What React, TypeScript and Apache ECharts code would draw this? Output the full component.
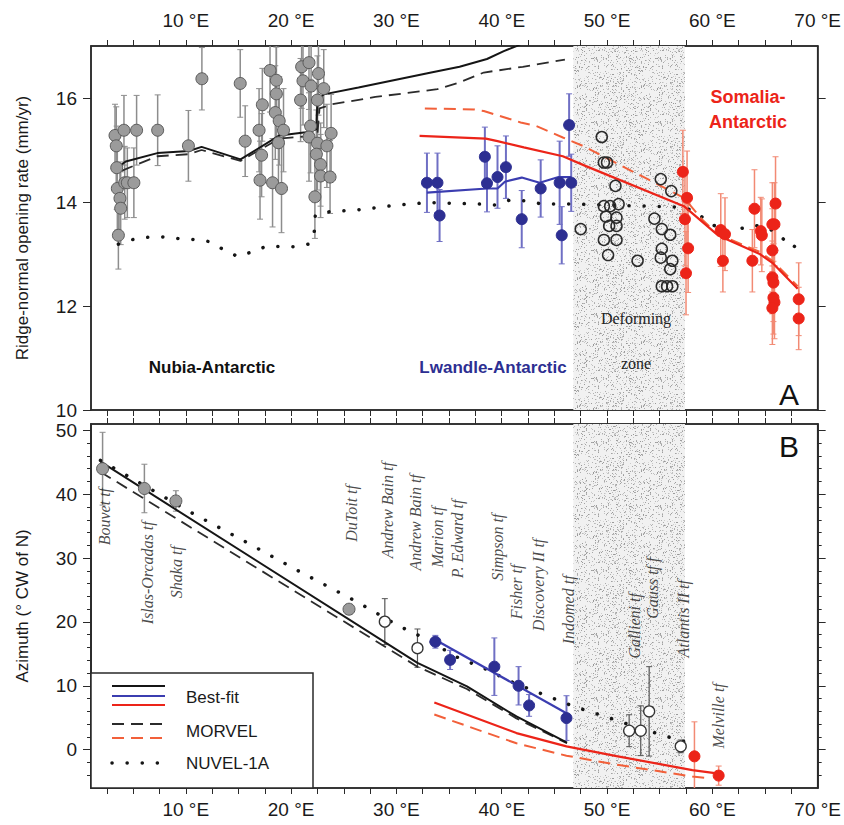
import React, { useEffect, useRef } from 'react';
import * as echarts from 'echarts';

// ---------- axes ----------
const LON_MIN = 1;
const LON_MAX = 70;
const lonLabels = [10, 20, 30, 40, 50, 60, 70];
const lonTicks = [2.5, 5, 7.5, 10, 12.5, 15, 17.5, 20, 22.5, 25, 27.5, 30, 32.5, 35, 37.5, 40, 42.5, 45, 47.5, 50, 52.5, 55, 57.5, 60, 62.5, 65, 67.5];
const rateLabels = [10, 12, 14, 16];
const azLabels = [0, 10, 20, 30, 40, 50];
const azMinorTicks = [-4, -2, 2, 4, 6, 8, 12, 14, 16, 18, 22, 24, 26, 28, 32, 34, 36, 38, 42, 44, 46, 48];
const deformZone = [46.8, 57.4];

// ---------- panel A: ridge-normal opening rate (lon, rate, ±err) ----------
const nubiaRate = [
  [3.28, 15.28, 0.6], [3.4, 15.08, 0.75], [3.44, 14.66, 0.8], [3.5, 14.26, 0.8], [3.75, 14.07, 0.7],
  [3.82, 13.88, 0.7], [3.6, 13.36, 0.65], [4.13, 15.38, 0.67], [4.2, 14.37, 0.7], [4.45, 14.37, 0.67],
  [5.07, 14.37, 0.67], [5.33, 15.38, 0.67], [7.33, 15.38, 0.68], [10.25, 15.08, 0.68], [11.53, 16.37, 0.6],
  [15.17, 16.28, 0.65], [15.64, 15.17, 0.68], [16.96, 15.38, 0.8], [17.27, 15.87, 0.7], [17.2, 14.9, 0.8],
  [17.05, 14.42, 0.75], [18.0, 16.53, 0.8], [18.6, 16.34, 0.8], [18.6, 16.08, 0.9], [18.5, 15.72, 0.9],
  [18.87, 15.56, 0.85], [19.28, 15.38, 0.8], [18.8, 15.14, 0.9], [18.24, 14.37, 0.85], [19.09, 14.26, 0.85],
  [21.0, 16.6, 0.8], [21.7, 16.68, 0.9], [21.13, 16.33, 0.85], [21.9, 16.23, 0.9], [22.6, 16.47, 0.8],
  [23.1, 16.18, 0.75], [20.9, 15.96, 0.8], [22.5, 15.96, 0.85], [21.85, 15.46, 0.9], [21.7, 15.25, 0.85],
  [23.8, 15.32, 0.75], [22.5, 15.13, 0.9], [23.4, 15.08, 0.8], [22.4, 14.92, 0.85], [22.8, 14.72, 0.8],
  [22.8, 14.5, 0.8], [23.7, 14.48, 0.7], [22.26, 14.1, 0.8],
];
const lwandleRate = [
  [32.9, 14.37, 0.57], [33.9, 14.37, 0.57], [34.1, 13.74, 0.5], [38.4, 14.87, 0.57], [38.6, 14.36, 0.55],
  [39.6, 14.48, 0.6], [40.4, 14.67, 0.6], [41.9, 13.67, 0.55], [43.7, 14.26, 0.55], [45.5, 14.37, 0.8],
  [45.7, 13.36, 0.55], [46.6, 14.37, 0.55], [46.4, 15.48, 0.6],
];
const somaliaRate = [
  [57.2, 14.58, 0.8], [57.6, 14.08, 0.9], [57.4, 13.67, 0.9], [57.7, 13.11, 0.85], [57.5, 12.63, 0.8],
  [60.8, 13.46, 0.7], [61.2, 13.38, 0.7], [61.0, 12.87, 0.6], [64.0, 13.87, 0.75], [64.6, 13.44, 0.65],
  [64.7, 13.36, 0.7], [63.8, 12.87, 0.6], [66.0, 13.97, 0.9], [65.7, 13.57, 0.8], [65.9, 13.57, 0.8],
  [65.7, 13.07, 0.8], [65.7, 12.55, 0.7], [65.8, 12.45, 0.75], [65.8, 12.16, 0.7], [65.9, 12.07, 0.7],
  [65.7, 11.96, 0.7], [68.2, 12.13, 0.7], [68.2, 11.76, 0.6],
];
const deformRate = [
  [49.5, 15.25], [49.7, 14.76], [50.0, 14.76], [50.8, 14.31], [49.7, 13.92], [50.3, 13.92], [51.1, 13.96],
  [49.9, 13.72], [50.9, 13.7], [50.2, 13.54], [50.9, 13.54], [47.5, 13.48], [49.7, 13.27], [50.9, 13.27],
  [50.1, 12.98], [52.9, 12.87], [55.1, 14.44], [56.1, 14.21], [54.5, 13.68], [55.2, 13.48], [56.0, 13.37],
  [55.2, 13.1], [55.1, 12.93], [56.2, 12.87], [56.0, 12.71], [55.2, 12.38], [55.7, 12.38], [56.2, 12.38],
];
const nubiaBestRate = [
  [3.9, 14.72], [4.3, 14.78], [7.3, 14.94], [10.3, 14.98], [11.5, 15.06], [15.2, 14.82], [18.9, 15.28],
  [21.4, 15.34], [22.4, 15.4], [22.5, 15.95], [23.1, 16.07], [26.4, 16.2], [33.3, 16.49], [36.0, 16.6],
  [38.6, 16.75], [40.2, 16.9], [41.4, 17.0], [45.0, 17.35],
];
const nubiaMorvelRate = [
  [3.9, 14.6], [7.3, 14.88], [10.3, 14.92], [11.5, 15.0], [15.2, 14.79], [18.9, 15.22], [21.9, 15.27],
  [22.5, 15.3], [22.7, 15.8], [23.9, 15.88], [28.0, 16.02], [33.9, 16.17], [36.0, 16.3], [38.3, 16.49],
  [42.0, 16.6], [46.0, 16.74],
];
const nuvelRate = [
  [3.6, 13.19], [4.76, 13.27], [6.27, 13.32], [7.74, 13.33], [9.25, 13.3], [10.7, 13.28], [12.2, 13.24],
  [13.54, 13.09], [14.95, 12.95], [16.27, 13.04], [17.7, 13.15], [20.2, 13.14], [21.7, 13.19], [22.2, 13.43],
  [22.3, 13.75], [23.6, 13.81], [26.9, 13.86], [30.0, 13.94], [33.1, 13.99], [37.9, 13.96], [39.5, 13.94],
  [40.8, 14.04], [42.4, 14.02], [43.8, 13.96], [46.8, 13.96], [57.4, 13.9], [58.7, 13.76], [60.0, 13.57],
  [61.2, 13.42], [62.7, 13.49], [64.1, 13.55], [65.4, 13.49], [66.5, 13.33], [67.7, 13.12], [68.2, 13.26],
];
const lwandleBestRate = [
  [32.9, 14.18], [38.6, 14.26], [39.6, 14.26], [40.3, 14.39], [41.9, 14.47], [43.6, 14.37], [45.4, 14.48], [46.6, 14.48],
];
const somaliaBestRate = [
  [32.2, 15.27], [38.5, 15.22], [39.6, 15.17], [42.1, 15.05], [45.8, 14.88], [48.0, 14.69], [57.3, 13.92],
  [60.6, 13.35], [64.5, 13.0], [65.7, 12.83], [68.1, 12.33],
];
const somaliaMorvelRate = [
  [32.7, 15.8], [37.4, 15.78], [38.3, 15.75], [41.8, 15.53], [43.3, 15.46], [45.8, 15.24], [47.7, 15.08],
  [57.3, 14.08], [59.0, 13.67], [60.5, 13.38], [64.5, 13.04], [65.7, 12.87], [68.1, 12.38],
];

// ---------- panel B: azimuth (lon, azimuth, ±err) ----------
const nubiaAz = [[2.1, 44.0, 5.7], [6.07, 40.9, 3.8], [9.06, 38.95, 1.6], [25.5, 22.0, 0.6]];
const openAz = [[28.9, 20.05, 3.6], [32.0, 15.9, 3.0], [52.1, 2.97, 2.5], [53.2, 2.97, 3.9], [54.0, 6.0, 7.0], [57.0, 0.52, 1.0]];
const lwandleAz = [[33.7, 16.9, 1.0], [35.1, 14.06, 1.5], [39.3, 13.0, 4.5], [41.6, 10.0, 3.0], [42.6, 6.93, 1.7], [46.15, 4.95, 3.5]];
const somaliaAz = [[58.3, -1.04, 5.4], [60.6, -4.06, 1.5]];
const nubiaBestAz = [[1.9, 45.1], [32.0, 13.6], [36.7, 9.9], [41.4, 5.2], [46.2, 1.1]];
const nubiaMorvelAz = [[1.9, 43.5], [32.0, 13.0], [36.7, 9.5], [41.4, 4.9], [46.2, 1.0]];
const nuvelAz = [
  [1.9, 45.3], [7.4, 40.1], [10.1, 37.5], [15.4, 32.8], [20.8, 27.9], [26.2, 23.2], [30.2, 19.4], [33.0, 17.2],
  [35.6, 14.6], [38.5, 12.6], [41.1, 10.5], [44.0, 8.6], [46.8, 6.8], [49.8, 5.2], [52.7, 3.6], [55.6, 2.1], [58.5, 0.7],
];
const lwandleBestAz = [[33.6, 17.3], [46.15, 5.7]];
const somaliaBestAz = [[33.6, 7.4], [41.4, 2.6], [46.15, 0.52], [50.9, -1.0], [58.1, -3.2], [60.6, -3.75]];
const somaliaMorvelAz = [[33.6, 5.5], [41.4, 1.0], [46.15, -0.94], [50.9, -2.34], [58.1, -4.2], [59.3, -4.4]];
const faultNames = [
  'Bouvet tf', 'Islas-Orcadas tf', 'Shaka tf', 'DuToit tf', 'Andrew Bain tf', 'Andrew Bain tf', 'Marion tf',
  'P. Edward tf', 'Simpson tf', 'Fisher tf', 'Discovery II tf', 'Indomed tf', 'Gallieni tf', 'Gauss tf f',
  'Atlantis II tf', 'Melville tf',
];
const faultLon = [2.25, 6.33, 9.15, 25.7, 29.2, 31.85, 33.9, 35.8, 39.6, 41.4, 43.5, 46.3, 52.6, 54.3, 57.3, 60.6];
const faultAz = [36.5, 27.7, 27.8, 37.0, 37.5, 35.6, 33.3, 33.0, 31.7, 24.7, 25.8, 21.9, 19.4, 25.3, 20.5, 5.3];

// ---------- styling ----------
const BLACK = '#151515';
const BLUE = '#2d2f92';
const BLUE_LINE = '#3b3db0';
const BLUE_BAR = '#6f6fc4';
const RED = '#ec2419';
const RED_DASH = '#f2603a';
const RED_BAR = '#f28a74';
const GRAY_FILL = '#9b9b9b';
const GRAY_EDGE = '#5a5a5a';
const GRAY_BAR = '#8d8d8d';
const SANS = '"Liberation Sans", Arial, Helvetica, sans-serif';
const SERIF = '"Liberation Serif", "Times New Roman", serif';

function makeStipple(): HTMLCanvasElement {
  const c = document.createElement('canvas');
  c.width = 64;
  c.height = 64;
  const ctx = c.getContext('2d')!;
  ctx.fillStyle = '#f1f1f1';
  ctx.fillRect(0, 0, 64, 64);
  let s = 987654321;
  const next = () => {
    s = (Math.imul(s, 1664525) + 1013904223) >>> 0;
    return s / 4294967296;
  };
  for (let i = 0; i < 700; i++) {
    const g = 150 + Math.floor(next() * 70);
    ctx.fillStyle = `rgb(${g},${g},${g})`;
    ctx.fillRect(Math.floor(next() * 64), Math.floor(next() * 64), 1, 1);
  }
  return c;
}

function errBars(pts: number[][]) {
  return pts.map((p) => [p[0], p[1] - p[2], p[1] + p[2]]);
}

function errRender(color: string, width: number) {
  return (params: any, api: any) => {
    const x = api.value(0);
    const top = api.coord([x, api.value(2)]);
    const bot = api.coord([x, api.value(1)]);
    const c = 3;
    return {
      type: 'group',
      children: [
        { type: 'line', shape: { x1: top[0], y1: top[1], x2: bot[0], y2: bot[1] }, style: { stroke: color, lineWidth: width } },
        { type: 'line', shape: { x1: top[0] - c, y1: top[1], x2: top[0] + c, y2: top[1] }, style: { stroke: color, lineWidth: 1 } },
        { type: 'line', shape: { x1: bot[0] - c, y1: bot[1], x2: bot[0] + c, y2: bot[1] }, style: { stroke: color, lineWidth: 1 } },
      ],
    };
  };
}

const axisLineStyle = { color: '#2a2a2a', width: 1.5 };

function lonAxis(gridIndex: number, position: 'top' | 'bottom', withLabels: boolean) {
  return {
    type: 'value',
    gridIndex,
    position,
    min: LON_MIN,
    max: LON_MAX,
    axisLine: { show: true, onZero: false, lineStyle: axisLineStyle },
    axisTick: { show: true, inside: false, length: 6, customValues: lonTicks, lineStyle: { color: '#2a2a2a', width: 1 } },
    axisLabel: {
      show: withLabels,
      customValues: lonLabels,
      formatter: (v: number) => `${v} °E`,
      fontFamily: SANS,
      fontSize: 19,
      color: '#1a1a1a',
      margin: position === 'top' ? 16 : 12,
    },
    splitLine: { show: false },
  };
}

function valAxis(gridIndex: number, position: 'left' | 'right', min: number, max: number, ticks: number[], labels: number[] | null, len: number, name?: string) {
  return {
    type: 'value',
    gridIndex,
    position,
    min,
    max,
    name: name || '',
    nameLocation: 'middle',
    nameGap: 60,
    nameRotate: 90,
    nameTextStyle: { fontFamily: SANS, fontSize: 17, color: '#1a1a1a' },
    axisLine: { show: true, onZero: false, lineStyle: axisLineStyle },
    axisTick: { show: true, inside: false, length: len, customValues: ticks, lineStyle: { color: '#2a2a2a', width: 1 } },
    axisLabel: labels
      ? { show: true, customValues: labels, fontFamily: SANS, fontSize: 19, color: '#1a1a1a', margin: 14 }
      : { show: false },
    splitLine: { show: false },
  };
}

function lineSeries(x: number, y: number, data: number[][], color: string, type: any, width: number, z = 4, extra: any = {}) {
  return {
    type: 'line',
    xAxisIndex: x,
    yAxisIndex: y,
    data,
    symbol: 'none',
    clip: true,
    z,
    lineStyle: { color, width, type, ...extra },
    silent: true,
  };
}

function scatterSeries(x: number, y: number, data: number[][], fill: string, edge: string, size: number, edgeW = 1) {
  return {
    type: 'scatter',
    xAxisIndex: x,
    yAxisIndex: y,
    data: data.map((p) => [p[0], p[1]]),
    symbol: 'circle',
    symbolSize: size,
    itemStyle: { color: fill, borderColor: edge, borderWidth: edgeW, opacity: 1 },
    z: 6,
    silent: true,
  };
}

function barSeries(x: number, y: number, data: number[][], color: string, width: number) {
  return {
    type: 'custom',
    xAxisIndex: x,
    yAxisIndex: y,
    data: errBars(data),
    encode: { x: 0, y: [1, 2] },
    renderItem: errRender(color, width),
    clip: true,
    z: 3,
    silent: true,
  };
}

const DOTTED = [0.1, 15];
const DASHED = [12, 7];

export default function App() {
  const ref = useRef<HTMLDivElement>(null);
  useEffect(() => {
    if (!ref.current) return;
    const chart = echarts.init(ref.current, null, { renderer: 'svg' });
    const stipple = makeStipple();
    const zoneStyle = { color: { image: stipple, repeat: 'repeat', imageWidth: 64, imageHeight: 64 } as any, opacity: 1 };

    const zoneSeries = (x: number, y: number) => ({
      type: 'line',
      xAxisIndex: x,
      yAxisIndex: y,
      data: [],
      z: 1,
      silent: true,
      markArea: {
        silent: true,
        itemStyle: zoneStyle,
        data: [[{ xAxis: deformZone[0] }, { xAxis: deformZone[1] }]],
      },
    });

    const legendX1 = 112;
    const legendX2 = 165;
    const textStyleLegend = { fontFamily: SANS, fontSize: 17, fill: '#1a1a1a' };

    const option: any = {
      animation: false,
      backgroundColor: '#ffffff',
      grid: [
        { left: 91, right: 22, top: 46, height: 364, show: true, borderColor: '#2a2a2a', borderWidth: 1.5, backgroundColor: 'transparent' },
        { left: 91, right: 22, top: 424, height: 364, show: true, borderColor: '#2a2a2a', borderWidth: 1.5, backgroundColor: 'transparent' },
      ],
      xAxis: [
        lonAxis(0, 'top', true),
        lonAxis(0, 'bottom', false),
        lonAxis(1, 'bottom', true),
        lonAxis(1, 'top', false),
      ],
      yAxis: [
        valAxis(0, 'left', 10, 17, rateLabels, rateLabels, 8, 'Ridge-normal opening rate (mm/yr)'),
        valAxis(0, 'right', 10, 17, rateLabels, null, 8),
        valAxis(1, 'left', -6, 51, azLabels, azLabels, 8, 'Azimuth (° CW of N)'),
        valAxis(1, 'right', -6, 51, azLabels, null, 8),
        valAxis(1, 'left', -6, 51, azMinorTicks, null, 4),
        valAxis(1, 'right', -6, 51, azMinorTicks, null, 4),
      ],
      series: [
        zoneSeries(0, 0),
        zoneSeries(2, 2),
        // ---- panel A ----
        barSeries(0, 0, nubiaRate, GRAY_BAR, 1.5),
        barSeries(0, 0, lwandleRate, BLUE_BAR, 2),
        barSeries(0, 0, somaliaRate, RED_BAR, 1.5),
        lineSeries(0, 0, nuvelRate, BLACK, DOTTED, 3.5, 4, { cap: 'round' }),
        lineSeries(0, 0, nubiaMorvelRate, '#2b2b2b', DASHED, 1.8),
        lineSeries(0, 0, nubiaBestRate, BLACK, 'solid', 2),
        lineSeries(0, 0, somaliaMorvelRate, RED_DASH, DASHED, 2),
        lineSeries(0, 0, somaliaBestRate, RED, 'solid', 2.2),
        lineSeries(0, 0, lwandleBestRate, BLUE_LINE, 'solid', 2.2),
        scatterSeries(0, 0, nubiaRate, GRAY_FILL, GRAY_EDGE, 12),
        scatterSeries(0, 0, deformRate, 'rgba(0,0,0,0)', '#2a2a2a', 11, 1.5),
        scatterSeries(0, 0, lwandleRate, BLUE, BLUE, 11),
        scatterSeries(0, 0, somaliaRate, RED, RED, 11),
        // ---- panel B ----
        barSeries(2, 2, nubiaAz, GRAY_BAR, 1.5),
        barSeries(2, 2, openAz, '#555555', 1.2),
        barSeries(2, 2, lwandleAz, BLUE_BAR, 2),
        barSeries(2, 2, somaliaAz, RED_BAR, 1.5),
        lineSeries(2, 2, nuvelAz, BLACK, DOTTED, 3.5, 4, { cap: 'round' }),
        lineSeries(2, 2, nubiaMorvelAz, '#2b2b2b', DASHED, 1.8),
        lineSeries(2, 2, nubiaBestAz, BLACK, 'solid', 2),
        lineSeries(2, 2, somaliaMorvelAz, RED_DASH, DASHED, 2),
        lineSeries(2, 2, somaliaBestAz, RED, 'solid', 2.2),
        lineSeries(2, 2, lwandleBestAz, BLUE_LINE, 'solid', 2.2),
        scatterSeries(2, 2, nubiaAz, GRAY_FILL, GRAY_EDGE, 12),
        scatterSeries(2, 2, openAz, '#ffffff', '#333333', 11, 1.3),
        scatterSeries(2, 2, lwandleAz, BLUE, BLUE, 11),
        scatterSeries(2, 2, somaliaAz, RED, RED, 11),
        {
          type: 'scatter',
          xAxisIndex: 2,
          yAxisIndex: 2,
          symbolSize: 0,
          silent: true,
          z: 7,
          data: faultNames.map((n, i) => ({ name: n, value: [faultLon[i], faultAz[i]] })),
          label: {
            show: true,
            formatter: '{b}',
            rotate: 90,
            position: 'inside',
            align: 'center',
            verticalAlign: 'middle',
            fontFamily: SERIF,
            fontStyle: 'italic',
            fontSize: 16,
            color: '#1a1a1a',
          },
        },
      ],
      graphic: [
        { type: 'text', x: 212, y: 367, style: { text: 'Nubia-Antarctic', fontFamily: SANS, fontWeight: 'bold', fontSize: 17, fill: '#111', align: 'center', verticalAlign: 'middle' }, z: 10 },
        { type: 'text', x: 493, y: 367, style: { text: 'Lwandle-Antarctic', fontFamily: SANS, fontWeight: 'bold', fontSize: 17, fill: BLUE, align: 'center', verticalAlign: 'middle' }, z: 10 },
        { type: 'text', x: 636, y: 318, style: { text: 'Deforming', fontFamily: SERIF, fontSize: 16, fill: '#222', align: 'center', verticalAlign: 'middle' }, z: 10 },
        { type: 'text', x: 636, y: 363, style: { text: 'zone', fontFamily: SERIF, fontSize: 16, fill: '#222', align: 'center', verticalAlign: 'middle' }, z: 10 },
        { type: 'text', x: 748, y: 97, style: { text: 'Somalia-', fontFamily: SANS, fontWeight: 'bold', fontSize: 18, fill: RED, align: 'center', verticalAlign: 'middle' }, z: 10 },
        { type: 'text', x: 748, y: 122, style: { text: 'Antarctic', fontFamily: SANS, fontWeight: 'bold', fontSize: 18, fill: RED, align: 'center', verticalAlign: 'middle' }, z: 10 },
        { type: 'text', x: 789, y: 394, style: { text: 'A', fontFamily: SANS, fontSize: 30, fill: '#111', align: 'center', verticalAlign: 'middle' }, z: 10 },
        { type: 'text', x: 789, y: 446, style: { text: 'B', fontFamily: SANS, fontSize: 30, fill: '#111', align: 'center', verticalAlign: 'middle' }, z: 10 },
        // legend
        { type: 'rect', shape: { x: 91, y: 673, width: 222, height: 115 }, style: { fill: '#ffffff', stroke: '#2a2a2a', lineWidth: 1.5 }, z: 20 },
        { type: 'line', shape: { x1: legendX1, y1: 686, x2: legendX2, y2: 686 }, style: { stroke: BLACK, lineWidth: 2 }, z: 21 },
        { type: 'line', shape: { x1: legendX1, y1: 696, x2: legendX2, y2: 696 }, style: { stroke: BLUE_LINE, lineWidth: 2 }, z: 21 },
        { type: 'line', shape: { x1: legendX1, y1: 705, x2: legendX2, y2: 705 }, style: { stroke: RED, lineWidth: 2 }, z: 21 },
        { type: 'line', shape: { x1: legendX1, y1: 724, x2: legendX2, y2: 724 }, style: { stroke: '#2b2b2b', lineWidth: 2, lineDash: [12, 7] }, z: 21 },
        { type: 'line', shape: { x1: legendX1, y1: 738, x2: legendX2, y2: 738 }, style: { stroke: RED_DASH, lineWidth: 2, lineDash: [12, 7] }, z: 21 },
        { type: 'line', shape: { x1: legendX1, y1: 763, x2: legendX2, y2: 763 }, style: { stroke: BLACK, lineWidth: 3.5, lineDash: [0.1, 15], lineCap: 'round' }, z: 21 },
        { type: 'text', x: 186, y: 697, style: { text: 'Best-fit', ...textStyleLegend, verticalAlign: 'middle' }, z: 21 },
        { type: 'text', x: 186, y: 731, style: { text: 'MORVEL', ...textStyleLegend, verticalAlign: 'middle' }, z: 21 },
        { type: 'text', x: 186, y: 763, style: { text: 'NUVEL-1A', ...textStyleLegend, verticalAlign: 'middle' }, z: 21 },
      ],
    };
    chart.setOption(option);
    return () => chart.dispose();
  }, []);

  return (
    <div
      ref={ref}
      style={{ position: 'fixed', left: 0, top: 0, width: 844, height: 825, background: '#fff' }}
    />
  );
}
